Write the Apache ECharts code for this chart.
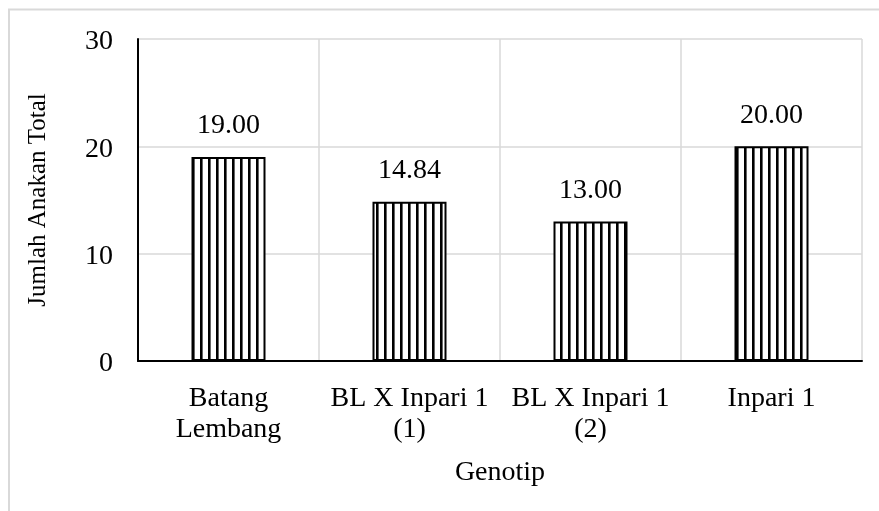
<!DOCTYPE html>
<html>
<head>
<meta charset="utf-8">
<script src="https://cdn.jsdelivr.net/npm/echarts@6/dist/echarts.min.js"></script>
<style>
html,body{margin:0;padding:0;background:#fff;}
#chart{width:879px;height:511px;}
</style>
</head>
<body>
<div id="chart"></div>
<script>
const categories = ['Batang\nLembang', 'BL X Inpari 1\n(1)', 'BL X Inpari 1\n(2)', 'Inpari 1'];
const values = [19.00, 14.84, 13.00, 20.00];
const yTicks = [0, 10, 20, 30];
const yAxisName = 'Jumlah Anakan Total';
const xAxisName = 'Genotip';

const pc = document.createElement('canvas');
pc.width = 8; pc.height = 8;
const pctx = pc.getContext('2d');
pctx.fillStyle = '#fff';
pctx.fillRect(0, 0, 8, 8);
pctx.fillStyle = '#000';
pctx.fillRect(0, 0, 2.6, 8);

const font = '"Liberation Serif", "Times New Roman", serif';
const chart = echarts.init(document.getElementById('chart'));
chart.setOption({
  backgroundColor: '#fff',
  animation: false,
  textStyle: { fontFamily: font },
  graphic: [{
    type: 'rect',
    shape: { x: 9, y: 9.5, width: 900, height: 600 },
    style: { fill: 'none', stroke: '#d9d9d9', lineWidth: 2 },
    z: -1
  }],
  grid: { left: 138, top: 39, right: 17, bottom: 150, containLabel: false },
  xAxis: {
    type: 'category',
    data: categories,
    name: xAxisName,
    nameLocation: 'middle',
    nameGap: 98,
    nameTextStyle: { fontFamily: font, fontSize: 28, color: '#000' },
    axisLine: { lineStyle: { color: '#000', width: 2 } },
    axisTick: { show: false },
    axisLabel: { fontFamily: font, fontSize: 28, color: '#000', margin: 22, lineHeight: 31, interval: 0 },
    splitLine: { show: true, interval: 0, lineStyle: { color: '#d9d9d9', width: 1.5 } }
  },
  yAxis: {
    type: 'value',
    min: yTicks[0],
    max: yTicks[yTicks.length - 1],
    interval: 10,
    name: yAxisName,
    nameLocation: 'middle',
    nameGap: 87,
    nameTextStyle: { fontFamily: font, fontSize: 25, color: '#000' },
    axisLine: { show: true, lineStyle: { color: '#000', width: 2 } },
    axisTick: { show: false },
    axisLabel: {
      fontFamily: font, fontSize: 28, color: '#000', margin: 25,
      formatter: v => '{a|' + v + '}',
      rich: { a: { fontFamily: font, fontSize: 28, color: '#000', padding: [6, 0, 0, 0] } }
    },
    splitLine: { show: true, lineStyle: { color: '#d9d9d9', width: 1.5 } }
  },
  series: [{
    type: 'bar',
    data: values,
    barWidth: 74,
    itemStyle: {
      color: { image: pc, repeat: 'repeat' },
      borderColor: '#000',
      borderWidth: 2
    },
    label: {
      show: true,
      position: 'top',
      distance: 17,
      fontFamily: font,
      fontSize: 28,
      color: '#000',
      formatter: p => p.value.toFixed(2)
    }
  }]
});
</script>
</body>
</html>
